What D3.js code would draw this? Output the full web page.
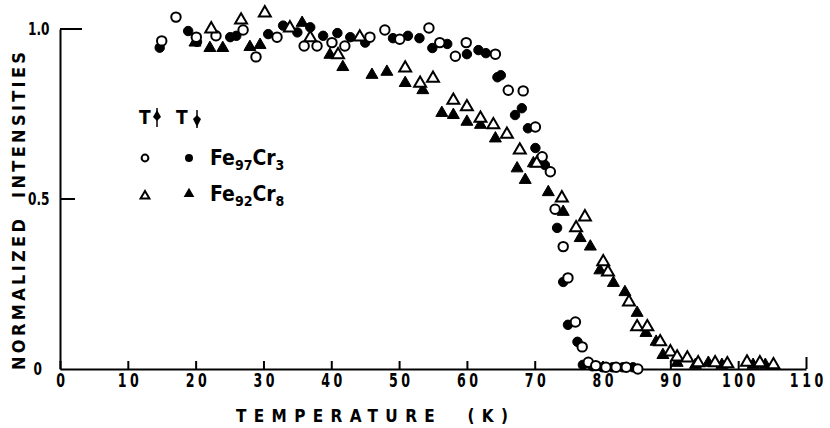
<!DOCTYPE html>
<html>
<head>
<meta charset="utf-8">
<script src="https://cdn.jsdelivr.net/npm/d3@7"></script>
<style>
  body { margin: 0; background: #fff; }
  svg text { font-family: "DejaVu Sans Condensed", "DejaVu Sans", sans-serif; fill: #000; }
</style>
</head>
<body>
<div id="chart"></div>
<script>
// Fe97Cr3, open circles (T up)
const fe97OpenT = [15.0, 17.1, 20.1, 23.0, 27.0, 28.9, 32.0, 36.0, 37.9, 40.1, 42.0, 45.7, 47.9, 50.1, 54.4, 56.0, 58.3, 59.9, 64.2, 66.1, 68.3, 70.1, 71.1, 72.3, 73.0, 74.2, 74.9, 76.0, 77.0, 77.9, 79.0, 80.5, 82.0, 83.5, 85.2];
const fe97OpenI = [0.965, 1.035, 0.976, 0.98, 0.997, 0.918, 0.976, 0.95, 0.95, 0.96, 0.95, 0.976, 0.997, 0.97, 1.003, 0.96, 0.92, 0.96, 0.926, 0.82, 0.818, 0.712, 0.624, 0.58, 0.47, 0.36, 0.268, 0.138, 0.065, 0.02, 0.01, 0.005, 0.005, 0.005, 0.0];
// Fe97Cr3, filled circles (T down)
const fe97FillT = [14.7, 18.9, 20.2, 25.1, 26.0, 30.7, 32.9, 35.0, 36.9, 38.8, 40.9, 42.8, 45.0, 49.1, 51.3, 53.0, 54.9, 57.1, 60.0, 61.7, 62.8, 64.5, 65.0, 67.1, 68.1, 69.0, 70.1, 71.5, 73.3, 74.2, 74.9, 76.3, 77.1, 78.5, 80.0, 81.5, 83.0, 84.5];
const fe97FillI = [0.945, 0.994, 0.962, 0.976, 0.98, 0.985, 1.01, 0.99, 1.005, 0.98, 0.988, 0.976, 0.96, 0.973, 0.98, 0.973, 0.944, 0.956, 0.926, 0.938, 0.929, 0.858, 0.864, 0.747, 0.767, 0.708, 0.65, 0.6, 0.415, 0.256, 0.13, 0.08, 0.012, 0.008, 0.005, 0.005, 0.005, 0.005];
// Fe92Cr8, open triangles
const fe92OpenT = [22.3, 26.7, 30.2, 33.9, 36.9, 41.0, 44.2, 50.9, 53.1, 55.0, 58.0, 60.0, 62.0, 63.9, 65.9, 67.8, 70.3, 74.0, 76.1, 77.4, 80.1, 80.8, 83.9, 85.1, 86.6, 88.5, 90.0, 91.0, 92.5, 94.1, 96.6, 98.4, 101.3, 103.2, 105.2];
const fe92OpenI = [1.0, 1.026, 1.047, 1.003, 0.974, 0.924, 0.976, 0.885, 0.84, 0.855, 0.79, 0.771, 0.737, 0.718, 0.69, 0.644, 0.605, 0.503, 0.415, 0.447, 0.315, 0.285, 0.197, 0.124, 0.124, 0.08, 0.05, 0.035, 0.032, 0.018, 0.018, 0.015, 0.02, 0.018, 0.012];
// Fe92Cr8, filled triangles
const fe92FillT = [19.9, 22.1, 24.0, 28.0, 29.5, 35.7, 39.8, 41.7, 46.0, 48.2, 50.9, 53.5, 56.3, 58.0, 60.0, 62.0, 64.2, 67.4, 68.6, 69.8, 72.0, 74.2, 76.7, 78.2, 79.6, 81.6, 83.3, 85.1, 86.4, 87.9, 88.9, 91.0, 93.7, 95.6, 97.6, 102.2, 104.0];
const fe92FillI = [0.96, 0.944, 0.944, 0.947, 0.953, 1.018, 0.924, 0.888, 0.865, 0.874, 0.841, 0.82, 0.753, 0.747, 0.727, 0.718, 0.678, 0.59, 0.556, 0.605, 0.52, 0.462, 0.385, 0.36, 0.29, 0.253, 0.226, 0.165, 0.106, 0.08, 0.041, 0.018, 0.012, 0.018, 0.012, 0.012, 0.012];

const xTicks = [0, 10, 20, 30, 40, 50, 60, 70, 80, 90, 100, 110];
const yTicks = [0, 0.5, 1.0];
const yTickLabels = ["0", "0.5", "1.0"];

const width = 830, height = 428;
const margin = {left: 60, right: 24, top: 29, bottom: 59};

const svg = d3.select("#chart").append("svg")
    .attr("width", width)
    .attr("height", height);

const x = d3.scaleLinear().domain([0, 110]).range([margin.left, width - margin.right]);
const y = d3.scaleLinear().domain([0, 1]).range([height - margin.bottom, margin.top]);

// x axis, ticks pointing up
const xAxis = svg.append("g")
    .attr("transform", `translate(0,${y(0)})`)
    .call(d3.axisBottom(x).tickValues(xTicks).tickSizeInner(-8).tickSizeOuter(0).tickPadding(4).tickFormat(d3.format("d")));
xAxis.select(".domain").attr("stroke-width", 2);
xAxis.selectAll(".tick line").attr("stroke-width", 2);
xAxis.selectAll(".tick text")
    .style("font-size", "20px").style("font-weight", "bold").style("letter-spacing", "5px")
    .attr("dx", "2.5px")
    .attr("transform", "scale(0.7,1)");
xAxis.selectAll(".tick").filter(d => d === 110).select("line").attr("y2", -12);

// y axis, no outer ticks; short inside ticks drawn below
const yAxis = svg.append("g")
    .attr("transform", `translate(${x(0)},0)`)
    .call(d3.axisLeft(y).tickValues(yTicks).tickSize(0).tickPadding(14).tickFormat((d, i) => yTickLabels[i]));
yAxis.select(".domain").attr("stroke-width", 2);
yAxis.selectAll(".tick text")
    .style("font-size", "18px").style("font-weight", "bold")
    .attr("transform", "scale(0.75,1)");
yAxis.selectAll(".tick").filter(d => d === 0).select("text").attr("x", -24);

const tickLen = {0.5: 15, 1: 22};
svg.append("g").selectAll("line")
    .data(yTicks.filter(d => d > 0))
    .enter().append("line")
    .attr("x1", x(0)).attr("x2", d => x(0) + tickLen[d])
    .attr("y1", d => y(d)).attr("y2", d => y(d))
    .attr("stroke", "#000").attr("stroke-width", 2);

// axis titles
svg.append("text")
    .attr("x", 236).attr("y", 422)
    .attr("textLength", 272).attr("lengthAdjust", "spacing")
    .style("font-size", "17px").style("font-weight", "bold")
    .style("white-space", "pre")
    .text("TEMPERATURE  (K)");

svg.append("text")
    .attr("transform", "translate(25,370) rotate(-90)")
    .attr("textLength", 318).attr("lengthAdjust", "spacing")
    .style("font-size", "18px").style("font-weight", "bold")
    .style("white-space", "pre")
    .text("NORMALIZED  INTENSITIES");

// markers
const circ = d3.symbol().type(d3.symbolCircle).size(70)();
const tri = d3.symbol().type(d3.symbolTriangle).size(62)();

const drawSeries = (tArr, iArr, path, filled) => {
    svg.append("g").selectAll("path")
        .data(tArr.map((t, i) => [t, iArr[i]]))
        .enter().append("path")
        .attr("d", path)
        .attr("transform", d => `translate(${x(d[0])},${y(d[1])})`)
        .attr("fill", filled ? "#000" : "#fff")
        .attr("stroke", "#000")
        .attr("stroke-width", filled ? 1 : 2);
};

drawSeries(fe97FillT, fe97FillI, circ, true);
drawSeries(fe92FillT, fe92FillI, tri, true);
drawSeries(fe97OpenT, fe97OpenI, circ, false);
drawSeries(fe92OpenT, fe92OpenI, tri, false);

// legend
const leg = svg.append("g");
leg.append("text").attr("x", 139).attr("y", 124).style("font-size", "19px").style("font-weight", "bold").text("T");
leg.append("text").attr("x", 176).attr("y", 124).style("font-size", "19px").style("font-weight", "bold").text("T");
// up arrow, down arrow
leg.append("line").attr("x1", 157).attr("x2", 157).attr("y1", 108).attr("y2", 127).attr("stroke", "#000").attr("stroke-width", 1.5);
leg.append("path").attr("d", "M157,110 L161,117 L157,121 L153,117 Z").attr("fill", "#000");
leg.append("line").attr("x1", 197).attr("x2", 197).attr("y1", 110).attr("y2", 128).attr("stroke", "#000").attr("stroke-width", 1.5);
leg.append("path").attr("d", "M197,127 L201,119 L197,115 L193,119 Z").attr("fill", "#000");

leg.append("path").attr("d", d3.symbol().type(d3.symbolCircle).size(36)()).attr("transform", "translate(145,158)")
    .attr("fill", "#fff").attr("stroke", "#000").attr("stroke-width", 2);
leg.append("path").attr("d", d3.symbol().type(d3.symbolCircle).size(50)()).attr("transform", "translate(189,158)")
    .attr("fill", "#000");
leg.append("path").attr("d", d3.symbol().type(d3.symbolTriangle).size(34)()).attr("transform", "translate(145,196)")
    .attr("fill", "#fff").attr("stroke", "#000").attr("stroke-width", 2);
leg.append("path").attr("d", d3.symbol().type(d3.symbolTriangle).size(50)()).attr("transform", "translate(189,194)")
    .attr("fill", "#000");

const legLabel = (yPos, sub1, sub2) => {
    const t = leg.append("text").attr("x", 210).attr("y", yPos)
        .style("font-size", "21px").style("font-weight", "bold");
    t.append("tspan").text("Fe");
    t.append("tspan").attr("dy", 5).style("font-size", "14px").text(sub1);
    t.append("tspan").attr("dy", -5).text("Cr");
    t.append("tspan").attr("dy", 5).style("font-size", "14px").text(sub2);
};
legLabel(165, "97", "3");
legLabel(201, "92", "8");
</script>
</body>
</html>
